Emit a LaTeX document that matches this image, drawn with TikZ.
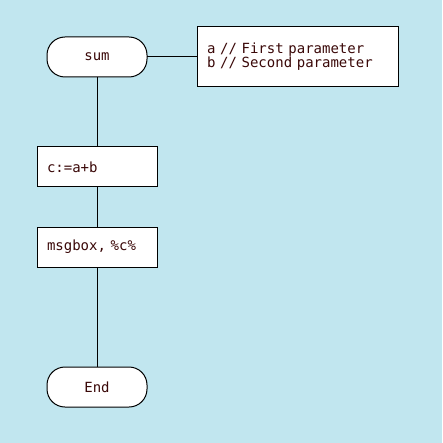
\documentclass[tikz,border=0pt]{standalone}
\usepackage{fontspec}
\newfontfamily\fcmono{DejaVu Sans Mono}
\usetikzlibrary{positioning}
\definecolor{fcback}{HTML}{C1E6EF}
\definecolor{fctext}{HTML}{3A0808}

\begin{document}
\begin{tikzpicture}[
    x=1pt, y=1pt,
    node distance=40pt,
    every node/.style={font=\fcmono\fontsize{14}{14}\selectfont, text=fctext, outer sep=0pt},
    term/.style={rectangle, rounded corners=18pt, draw=black, fill=white,
                 minimum width=100pt, minimum height=40pt, line width=1pt, inner sep=0pt},
    stepbox/.style={rectangle, draw=black, fill=white, text width=100pt, align=left,
                 inner xsep=10pt, inner ysep=0pt, minimum height=40pt, line width=1pt},
    note/.style={rectangle, draw=black, fill=white, text width=181pt, align=left,
                 inner xsep=10pt, inner ysep=0pt, minimum height=60pt, line width=1pt},
    link/.style={line width=1pt, black}
  ]
    \fill[fcback] (0,0) rectangle (442,-443);
    \useasboundingbox (0,0) rectangle (442,-443);

    \node[term] (sum) at (97,-57) {sum};
    \node[note, right=50pt of sum] (params) {a // First parameter\\b // Second parameter};
    \node[stepbox, below=70pt of sum] (calc) {c:=a+b};
    \node[stepbox, below=of calc] (msg) {msgbox, \%c\%};
    \node[term, below=100pt of msg] (fin) {End};

    \draw[link] (sum) -- (params);
    \draw[link] (sum) -- (calc);
    \draw[link] (calc) -- (msg);
    \draw[link] (msg) -- (fin);
  \end{tikzpicture}
\end{document}
